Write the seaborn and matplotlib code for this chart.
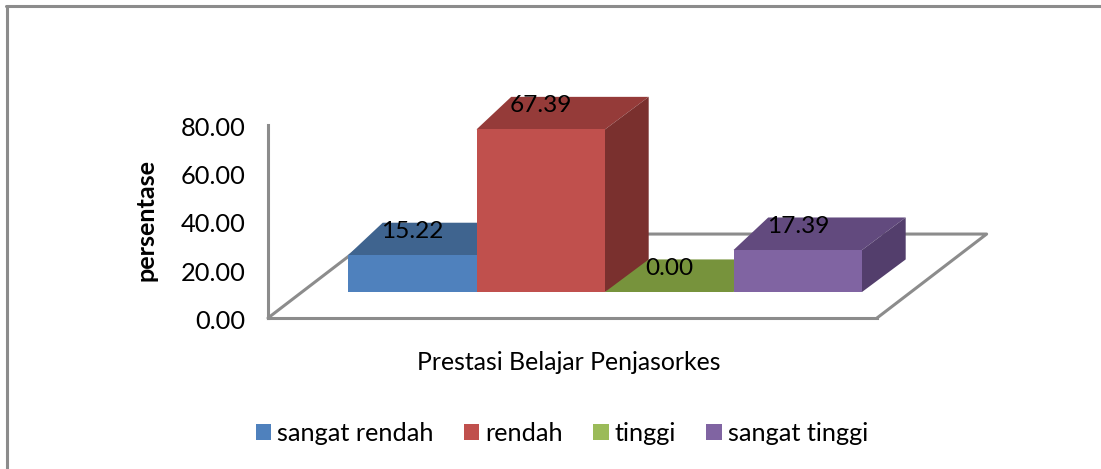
import matplotlib
matplotlib.use("Agg")
import matplotlib.pyplot as plt
from matplotlib.lines import Line2D
from matplotlib.patches import Patch
from matplotlib.transforms import ScaledTranslation
import seaborn as sns

categories = ["sangat rendah", "rendah", "tinggi", "sangat tinggi"]
values = [15.22, 67.39, 0.00, 17.39]
y_ticks = [0, 20, 40, 60, 80]

front_colors = ["#4F81BD", "#C0504D", "#9BBB59", "#8064A2"]
top_colors = ["#3F648F", "#953B39", "#77933C", "#624A7E"]
side_colors = ["#375879", "#7A302E", "#5F7530", "#533E6C"]
line_grey = "#8C8C8C"

W, H = 1101, 469
sns.set_theme(style="white")
plt.rcParams["font.family"] = ["Lato", "DejaVu Sans"]

fig = plt.figure(figsize=(W / 100, H / 100), dpi=100, facecolor="white")


def box(left, right, top, bottom):
    return [left / W, 1 - bottom / H, (right - left) / W, (bottom - top) / H]


# back wall / floor axes
ax = fig.add_axes(box(268, 877, 125, 318))
ax.set_xlim(0, 1)
ax.set_ylim(0, 80)
ax.set_xticks([])
ax.set_yticks(y_ticks)
ax.set_yticklabels([f"{t:.2f}" for t in y_ticks], fontsize=18.3, color="black")
ax.tick_params(axis="y", length=0, pad=16)
for lab in ax.get_yticklabels():
    lab.set_transform(lab.get_transform() + ScaledTranslation(0, -1 / 72, fig.dpi_scale_trans))
for s in ["top", "right"]:
    ax.spines[s].set_visible(False)
for s in ["left", "bottom"]:
    ax.spines[s].set_color(line_grey)
    ax.spines[s].set_linewidth(2.2)
# floor outline going back in depth
ax.plot([0, 0.18, 1.18, 1], [0, 34.8, 34.8, 0], color=line_grey, lw=2.2, clip_on=False)
ax.set_xlabel("Prestasi Belajar Penjasorkes", fontsize=17.9, color="black", va="center")
ax.xaxis.set_label_coords(0.494, -0.228, transform=ax.transAxes)
ax.set_ylabel("persentase", fontsize=18.2, fontweight="bold", color="black", va="center")
ax.yaxis.set_label_coords(-0.2, 0.508, transform=ax.transAxes)

# bars sit on the floor, shifted up and right from the axis
bar_ax = fig.add_axes(box(348, 862, 99, 292))
bar_ax.patch.set_alpha(0)
sns.barplot(x=categories, y=values, hue=categories, palette=front_colors,
            saturation=1, width=1, legend=False, ax=bar_ax)
for p in list(bar_ax.patches):
    p.set_zorder(5)
    p.set_linewidth(0)
bar_ax.set_xlim(-0.5, 3.5)
bar_ax.set_ylim(0, 80)
bar_ax.axis("off")

depth_y = 13.5
depth_left = 0.27
depth_right = 0.34
for i in [3, 2, 1, 0]:
    v = values[i]
    l, r = i - 0.5, i + 0.5
    bar_ax.fill([l, r, r + depth_right, l + depth_left], [v, v, v + depth_y, v + depth_y],
                color=top_colors[i], lw=0, zorder=3, clip_on=False)
    bar_ax.fill([r, r + depth_right, r + depth_right, r], [0, depth_y, v + depth_y, v],
                color=side_colors[i], lw=0, zorder=3, clip_on=False)
for i, v in enumerate(values):
    bar_ax.text(i, v + 9.8, f"{v:.2f}", ha="center", va="center", fontsize=17.6,
                color="black", zorder=6, clip_on=False)

handles = [Patch(facecolor=c, edgecolor="none") for c in front_colors]
fig.legend(handles, categories, ncol=4, loc="center", bbox_to_anchor=(562 / W, 1 - 433 / H),
           frameon=False, fontsize=18.2, handlelength=0.6, handleheight=0.6,
           handletextpad=0.24, columnspacing=1.2, labelcolor="black")

# chart frame, only top and left show
fig.add_artist(Line2D([7 / W, 7 / W], [0, 1 - 6 / H], color=line_grey, lw=2.2))
fig.add_artist(Line2D([6 / W, 1], [1 - 6 / H, 1 - 6 / H], color=line_grey, lw=2.2))

fig.savefig("out.png", dpi=100)
